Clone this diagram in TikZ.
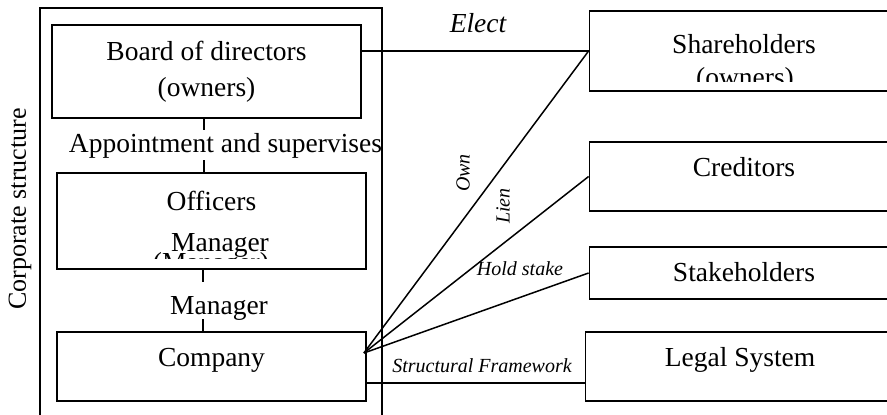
\documentclass[tikz,border=0pt]{standalone}
\usepackage{fontspec}
\setmainfont{Liberation Serif}
\newcommand\bigf{\fontsize{13.75pt}{18pt}\selectfont}
\newcommand\smit{\fontsize{10pt}{12pt}\selectfont\itshape}
\newcommand\corpf{\fontsize{13pt}{16pt}\selectfont}
\begin{document}
\begin{tikzpicture}[x=0.5pt,y=-0.5pt,
  box/.style={draw, line width=0.9pt, rectangle, inner sep=0pt, minimum width=154.5pt, font=\bigf},
  txt/.style={inner sep=0pt, font=\bigf},
  it/.style={inner sep=0pt, font=\smit},
  conn/.style={line width=0.75pt}]
\useasboundingbox (0,0) rectangle (887,415);
\clip (0,0) rectangle (887,415);
% left boxes
\node[box, minimum height=46.5pt, align=center] (board) at (206.5,71.5) {Board of directors\\(owners)};
\node[box, minimum height=48pt, text height=9.5pt, text depth=19.5pt] (officers) at (211.5,221) {Officers};
\node[box, minimum height=34.5pt, text height=9.5pt, text depth=9pt] (company) at (211.5,366.5) {Company};
% right boxes
\node[box, minimum height=40pt, text height=9.5pt, text depth=6.5pt] (share) at (744,51) {Shareholders};
\node[box, minimum height=34.5pt, text height=9.5pt, text depth=9pt] (cred) at (744,176.5) {Creditors};
\node[box, minimum height=26pt, text height=9.5pt, text depth=0.5pt] (stake) at (744,273) {Stakeholders};
\node[box, minimum height=34.5pt, text height=9.5pt, text depth=9pt] (legal) at (740,366.5) {Legal System};
% clipped texts
\begin{scope}
  \clip (57,173) rectangle (366,259);
  \node[txt, anchor=base] (mgrpar) at (211,272) {(Manager)};
\end{scope}
\node[txt, anchor=base] (mgrin) at (220,252) {Manager};
\begin{scope}
  \clip (590,11) rectangle (898,82);
  \node[txt, anchor=base] (ownpar) at (745,87) {(owners)};
\end{scope}
% connectors
\draw[conn] ([xshift=-1.25pt]board.south) -- ([xshift=-3.75pt]officers.north);
\draw[conn] ([xshift=-4.25pt]officers.south) -- ([xshift=-4.25pt]company.north);
\draw[conn] (board.east |- share.west) -- (share.west);
\coordinate (hub) at ([xshift=-1.5pt,yshift=6.75pt]company.east);
\draw[conn] (hub) -- (share.west);
\draw[conn] (hub) -- (cred.west);
\draw[conn] (hub) -- (stake.west);
\draw[conn] ([yshift=-8.25pt]company.east) -- ([yshift=-8.25pt]legal.west);
% labels
\node[txt, fill=white, text height=11.5pt, text depth=3.5pt] (lblA) at (225.5,145) {Appointment and supervises};
\node[txt, fill=white, text height=16.5pt, text depth=2pt] (lblM) at (219,300.5) {Manager};
\node[txt, font=\bigf\itshape, anchor=base] (elect) at (478,33) {Elect};
\node[it, rotate=90] (own) at (463,173) {Own};
\node[it, rotate=90] (lien) at (503,206) {Lien};
\node[it, anchor=base] (hold) at (520,276) {Hold stake};
\node[it, anchor=base] (struct) at (482,373) {Structural Framework};
\node[txt, font=\corpf, rotate=90] (corp) at (20,209) {Corporate structure};
% frame
\draw[line width=0.9pt] (40,420) -- (40,8) -- (382,8) -- (382,420);
\end{tikzpicture}
\end{document}
